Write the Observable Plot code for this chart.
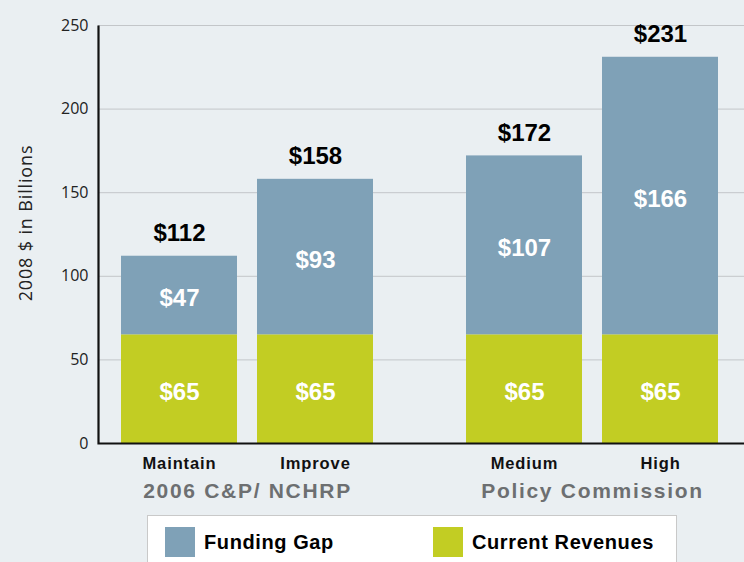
<!DOCTYPE html>
<html>
<head>
<meta charset="utf-8">
<script src="https://cdn.jsdelivr.net/npm/d3@7"></script>
<script src="https://cdn.jsdelivr.net/npm/@observablehq/plot@0.6"></script>
<style>
  html, body { margin: 0; padding: 0; background: #eaeff2; width: 744px; height: 562px; overflow: hidden; }
  #chart { position: relative; width: 744px; height: 510px; }
  #chart svg { display: block; position: absolute; left: 0; top: 0; background: transparent; }
  [aria-label="y-title"], [aria-label="y-title"] text { letter-spacing: 0.85px; }
  [aria-label="scenario-labels"], [aria-label="scenario-labels"] text { letter-spacing: 0.9px; }
  [aria-label="group-labels"], [aria-label="group-labels"] text { letter-spacing: 1.7px; }
  #legend { position: absolute; left: 147px; top: 515px; width: 530px; height: 60px; background: #fff;
            border: 1px solid #c9c9c9; box-sizing: border-box; font-family: "Liberation Sans", Arial, sans-serif; }
  .item { position: absolute; top: 11px; height: 30px; display: flex; align-items: center; }
  .sw { width: 30px; height: 30px; margin-right: 9px; }
  .lbl { font-weight: bold; font-size: 20px; letter-spacing: 0.6px; color: #000; }
</style>
</head>
<body>
<div id="chart"></div>
<div id="legend"></div>
<script>
const groups = ["2006 C&P/ NCHRP", "Policy Commission"];
const scenarios = ["Maintain", "Improve", "Medium", "High"];
const scenarioGroup = ["2006 C&P/ NCHRP", "2006 C&P/ NCHRP", "Policy Commission", "Policy Commission"];
const currentRevenues = [65, 65, 65, 65];
const fundingGap = [47, 93, 107, 166];
const totals = [112, 158, 172, 231];
const series = ["Funding Gap", "Current Revenues"];
const seriesColors = ["#7fa1b7", "#c2cd23"];
const yTicks = [0, 50, 100, 150, 200, 250];

// slot of each scenario within its group
const slot = scenarios.map((s, i) =>
  scenarios.filter((_, j) => scenarioGroup[j] === scenarioGroup[i]).indexOf(s));

const rows = [];
scenarios.forEach((s, i) => {
  rows.push({scenario: s, group: scenarioGroup[i], slot: slot[i], series: "Current Revenues", value: currentRevenues[i]});
  rows.push({scenario: s, group: scenarioGroup[i], slot: slot[i], series: "Funding Gap", value: fundingGap[i]});
});
const totalRows = scenarios.map((s, i) => ({scenario: s, group: scenarioGroup[i], slot: slot[i], total: totals[i]}));

const boldFont = "Liberation Sans, Arial, sans-serif";
const W = 744, H = 510, mL = 98, mR = 0, mT = 25, mB = 67;
const fw = W - mL - mR, fh = H - mT - mB;
const common = {
  width: W, height: H,
  marginLeft: mL, marginRight: mR, marginTop: mT, marginBottom: mB,
  style: {background: "transparent", overflow: "visible"},
  y: {axis: null, domain: [0, 250]}
};

// background layer: grid, tick labels, axis title
const bg = Plot.plot({
  ...common,
  marks: [
    Plot.ruleY(yTicks.slice(1), {y: d => d, stroke: "#c3c6c9", strokeWidth: 1}),
    Plot.text(yTicks, {y: d => d, text: d => String(d), frameAnchor: "left", dx: -10, textAnchor: "end",
      fill: "#222", fontSize: 16, fontFamily: "Open Sans, sans-serif"}),
    Plot.text(["2008 $ in Billions"], {text: d => d, frameAnchor: "left", textAnchor: "middle", lineAnchor: "middle",
      dx: -72, dy: -11.5, rotate: -90, ariaLabel: () => "y-title",
      fill: "#222", fontSize: 18, fontFamily: "Open Sans, sans-serif"})
  ]
});

// bars layer (faceted by group)
const bars = Plot.plot({
  ...common,
  fx: {axis: null, domain: groups, paddingInner: 0.2116, paddingOuter: 0.042, align: 0.45},
  x: {axis: null, domain: [0, 1], paddingInner: 0.147, paddingOuter: 0.0735},
  color: {domain: series, range: seriesColors},
  marks: [
    Plot.barY(rows, Plot.stackY({x: "slot", fx: "group", y: "value", fill: "series"})),
    Plot.text(rows, Plot.stackY({x: "slot", fx: "group", y: "value", text: d => "$" + d.value, dy: 3,
      fill: "white", fontSize: 24, fontWeight: "bold", fontFamily: boldFont})),
    Plot.text(totalRows, {x: "slot", fx: "group", y: "total", text: d => "$" + d.total, dy: -23,
      fill: "black", fontSize: 24, fontWeight: "bold", fontFamily: boldFont}),
    Plot.text(totalRows, {x: "slot", fx: "group", text: "scenario", frameAnchor: "bottom", lineAnchor: "middle", dy: 20,
      ariaLabel: () => "scenario-labels",
      fill: "#111", fontSize: 16.5, fontWeight: "bold", fontFamily: boldFont}),
    Plot.text(groups, {fx: d => d, text: d => d, frameAnchor: "bottom", lineAnchor: "middle", dy: 48,
      ariaLabel: () => "group-labels",
      fill: "#6d6f71", fontSize: 21, fontWeight: "bold", fontFamily: boldFont})
  ]
});

// foreground layer: axis lines (left and bottom)
const fg = Plot.plot({
  ...common,
  marks: [
    Plot.frame({stroke: "#111", strokeWidth: 2.2, strokeDasharray: `0 ${fw + fh} ${fw + fh + 4}`})
  ]
});

const host = document.getElementById("chart");
host.appendChild(bg);
host.appendChild(bars);
host.appendChild(fg);

const legend = document.getElementById("legend");
const legendOffsets = [17, 285];
series.forEach((s, i) => {
  const item = document.createElement("div");
  item.className = "item";
  item.style.left = legendOffsets[i] + "px";
  item.innerHTML = `<div class="sw" style="background:${seriesColors[i]}"></div><span class="lbl">${s}</span>`;
  legend.appendChild(item);
});
</script>
</body>
</html>
